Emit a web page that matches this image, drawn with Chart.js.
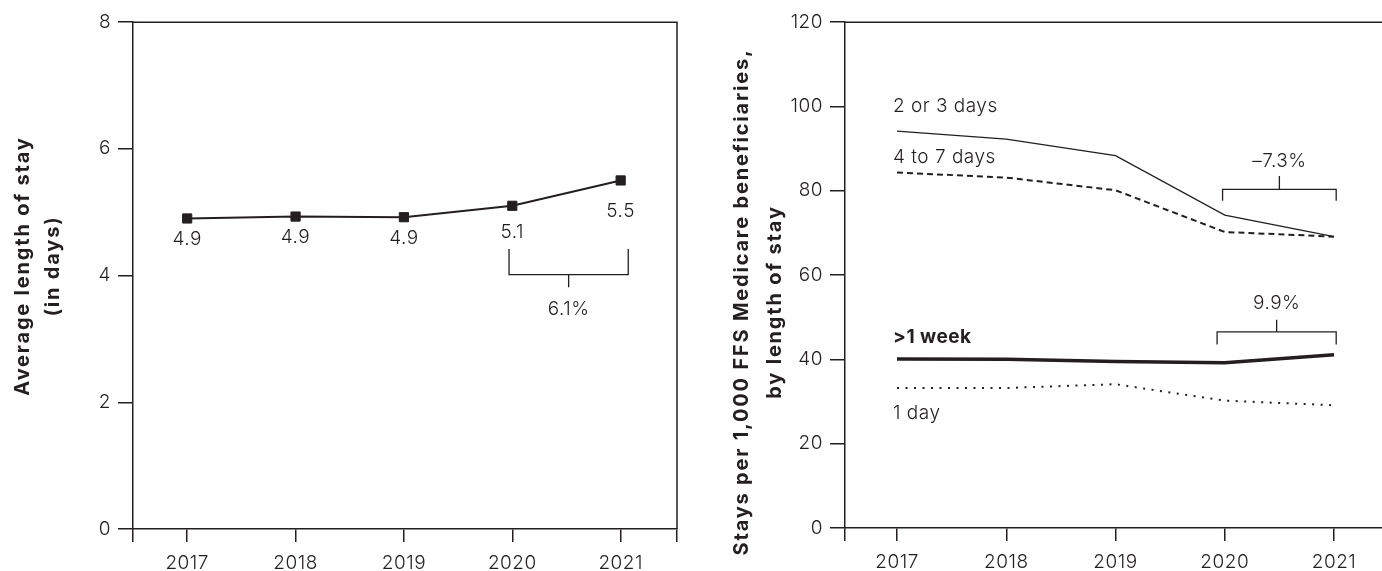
<!DOCTYPE html>
<html>
<head>
<meta charset="utf-8">
<script src="https://cdn.jsdelivr.net/npm/chart.js@4/dist/chart.umd.min.js"></script>
<style>
  html, body { margin: 0; padding: 0; background: #fff; }
  #wrap { position: relative; width: 1382px; height: 571px; overflow: hidden; }
  .panel { position: absolute; top: 0; height: 571px; }
  #left { left: 0; width: 691px; }
  #right { left: 691px; width: 720px; }
</style>
</head>
<body>
<div id="wrap">
  <div class="panel" id="left"><canvas id="losChart" width="691" height="571"></canvas></div>
  <div class="panel" id="right"><canvas id="staysChart" width="720" height="571"></canvas></div>
</div>
<script>
// data
const years = [2017, 2018, 2019, 2020, 2021];

const avgLos = [4.9, 4.93, 4.92, 5.1, 5.5];
const avgLosLabels = ['4.9', '4.9', '4.9', '5.1', '5.5'];
const losTicks = [0, 2, 4, 6, 8];

const stays2to3 = [94.1, 92.2, 88.3, 74.2, 69.1];
const stays4to7 = [84.3, 83.1, 80.1, 70.2, 69.1];
const staysWeek = [40.1, 40.0, 39.5, 39.2, 41.1];
const stays1day = [33.2, 33.2, 34.1, 30.2, 29.1];
const staysTicks = [0, 20, 40, 60, 80, 100, 120];

// annotations (data units)
const losBrackets = [
  { x0: 2019.97, x1: 2021.07, bar: 4.015, ends: 4.42, stem: 3.815, labelY: 3.47, text: '6.1%' }
];
const staysBrackets = [
  { x0: 2019.98, x1: 2021.02, bar: 80.3, ends: 77.6, stem: 83.5, labelY: 86.9, text: '–7.3%' },
  { x0: 2019.93, x1: 2021.02, bar: 46.5, ends: 43.5, stem: 49.4, labelY: 53.2, text: '9.9%' }
];
const seriesLabels = [
  { text: '2 or 3 days', y: 100.1, bold: false },
  { text: '4 to 7 days', y: 87.8, bold: false },
  { text: '>1 week', y: 45.3, bold: true },
  { text: '1 day', y: 27.1, bold: false }
];
const losLabelOffsets = [21, 21, 21, 26, 31];

const ink = '#231f20';
const axisW = 1.5;
const tickFont = { family: 'Inter', size: 19, weight: '300' };
const FONT = '300 19px Inter';
const BOLD = '700 19px Inter';
const TITLE = '700 20px Inter';

const pts = (vals) => years.map((y, i) => ({ x: y, y: vals[i] }));

// wider tracking for all canvas text, closer to the reference face
const spacingPlugin = {
  id: 'spacing',
  beforeDraw(chart) { chart.ctx.letterSpacing = '0.5px'; }
};

const framePlugin = {
  id: 'frame',
  beforeDatasetsDraw(chart, args, opts) {
    const { ctx, chartArea: a } = chart;
    ctx.save();
    ctx.strokeStyle = ink;
    ctx.lineWidth = axisW;
    ctx.beginPath();
    ctx.moveTo(a.left, a.top + 0.25);
    ctx.lineTo(opts.edge ? chart.width : a.right, a.top + 0.25);
    if (!opts.edge) ctx.lineTo(a.right, a.bottom);
    ctx.stroke();
    ctx.restore();
  }
};

const titlePlugin = {
  id: 'vtitle',
  afterDraw(chart, args, opts) {
    const { ctx } = chart;
    ctx.save();
    ctx.fillStyle = ink;
    ctx.font = TITLE;
    ctx.letterSpacing = '1.8px';
    ctx.textAlign = 'center';
    ctx.textBaseline = 'middle';
    opts.lines.forEach((l) => {
      ctx.save();
      ctx.translate(l.x, opts.y);
      ctx.rotate(-Math.PI / 2);
      ctx.fillText(l.text, 0, 0);
      ctx.restore();
    });
    ctx.restore();
  }
};

const bracketPlugin = {
  id: 'brackets',
  afterDatasetsDraw(chart, args, opts) {
    const { ctx } = chart;
    const xs = chart.scales.x, ys = chart.scales.y;
    ctx.save();
    ctx.strokeStyle = ink;
    ctx.fillStyle = ink;
    ctx.lineWidth = 1.3;
    ctx.font = FONT;
    ctx.textAlign = 'center';
    ctx.textBaseline = 'middle';
    opts.items.forEach((b) => {
      const x0 = xs.getPixelForValue(b.x0), x1 = xs.getPixelForValue(b.x1);
      const xm = (x0 + x1) / 2;
      const yb = ys.getPixelForValue(b.bar), ye = ys.getPixelForValue(b.ends), yst = ys.getPixelForValue(b.stem);
      ctx.beginPath();
      ctx.moveTo(x0, ye); ctx.lineTo(x0, yb); ctx.lineTo(x1, yb); ctx.lineTo(x1, ye);
      ctx.moveTo(xm, yb); ctx.lineTo(xm, yst);
      ctx.stroke();
      ctx.fillText(b.text, xm, ys.getPixelForValue(b.labelY));
    });
    ctx.restore();
  }
};

const pointLabelPlugin = {
  id: 'pointLabels',
  afterDatasetsDraw(chart) {
    const { ctx } = chart;
    const meta = chart.getDatasetMeta(0);
    ctx.save();
    ctx.fillStyle = ink;
    ctx.font = FONT;
    ctx.textAlign = 'center';
    ctx.textBaseline = 'middle';
    meta.data.forEach((p, i) => {
      ctx.fillText(avgLosLabels[i], p.x, p.y + losLabelOffsets[i]);
    });
    ctx.restore();
  }
};

const seriesLabelPlugin = {
  id: 'seriesLabels',
  afterDatasetsDraw(chart) {
    const { ctx } = chart;
    const x = chart.scales.x.getPixelForValue(years[0]) - 4;
    ctx.save();
    ctx.fillStyle = ink;
    ctx.textAlign = 'left';
    ctx.textBaseline = 'middle';
    seriesLabels.forEach((s) => {
      ctx.font = s.bold ? BOLD : FONT;
      ctx.fillText(s.text, x, chart.scales.y.getPixelForValue(s.y));
    });
    ctx.restore();
  }
};

function xScale(min, max, height) {
  return {
    type: 'linear', min, max,
    afterBuildTicks: (s) => { s.ticks = [min, ...years, max].map((v) => ({ value: v })); },
    afterFit: (s) => { s.height = height; },
    ticks: { callback: (v) => (years.includes(v) ? String(v) : ''), font: tickFont, color: ink, padding: 10, maxRotation: 0, autoSkip: false },
    grid: { drawOnChartArea: false, drawTicks: true, tickLength: 13, color: ink, lineWidth: axisW },
    border: { color: ink, width: axisW }
  };
}

function yScale(min, max, tickVals, width) {
  return {
    min, max,
    afterBuildTicks: (s) => { s.ticks = tickVals.map((v) => ({ value: v })); },
    afterFit: (s) => { s.width = width; },
    ticks: { font: tickFont, color: ink, padding: 7 },
    grid: { drawOnChartArea: false, drawTicks: true, tickLength: 15, color: ink, lineWidth: axisW },
    border: { color: ink, width: axisW }
  };
}

const common = {
  responsive: false,
  animation: false,
  devicePixelRatio: 1,
  elements: { line: { tension: 0 } }
};

new Chart(document.getElementById('losChart'), {
  type: 'line',
  data: {
    datasets: [{
      data: pts(avgLos),
      borderColor: ink, borderWidth: 2,
      pointStyle: 'rect', pointRadius: 6.5, pointBackgroundColor: ink, pointBorderColor: ink, pointBorderWidth: 1
    }]
  },
  options: {
    ...common,
    layout: { padding: { left: 0, right: 14, top: 22, bottom: 0 } },
    plugins: {
      legend: { display: false }, tooltip: { enabled: false },
      frame: { edge: false },
      vtitle: { y: 266, lines: [{ x: 23, text: 'Average length of stay' }, { x: 53, text: '(in days)' }] },
      brackets: { items: losBrackets }
    },
    scales: { x: xScale(2016.5, 2021.52, 42), y: yScale(0, 8, losTicks, 133) }
  },
  plugins: [spacingPlugin, framePlugin, titlePlugin, bracketPlugin, pointLabelPlugin]
});

const noPoint = { pointRadius: 0, borderColor: ink };
new Chart(document.getElementById('staysChart'), {
  type: 'line',
  data: {
    datasets: [
      { label: '2 or 3 days', data: pts(stays2to3), borderWidth: 1.3, ...noPoint },
      { label: '4 to 7 days', data: pts(stays4to7), borderWidth: 2, borderDash: [6, 4], ...noPoint },
      { label: '>1 week', data: pts(staysWeek), borderWidth: 3.5, ...noPoint },
      { label: '1 day', data: pts(stays1day), borderWidth: 2, borderDash: [2, 6.5], ...noPoint }
    ]
  },
  options: {
    ...common,
    layout: { padding: { left: 0, right: 11, top: 22, bottom: 0 } },
    plugins: {
      legend: { display: false }, tooltip: { enabled: false },
      frame: { edge: true },
      vtitle: { y: 302, lines: [{ x: 51, text: 'Stays per 1,000 FFS Medicare beneficiaries,' }, { x: 84, text: 'by length of stay' }] },
      brackets: { items: staysBrackets }
    },
    scales: { x: xScale(2016.524, 2021.604, 43), y: yScale(0, 120, staysTicks, 154) }
  },
  plugins: [spacingPlugin, framePlugin, titlePlugin, bracketPlugin, seriesLabelPlugin]
});
</script>
</body>
</html>
